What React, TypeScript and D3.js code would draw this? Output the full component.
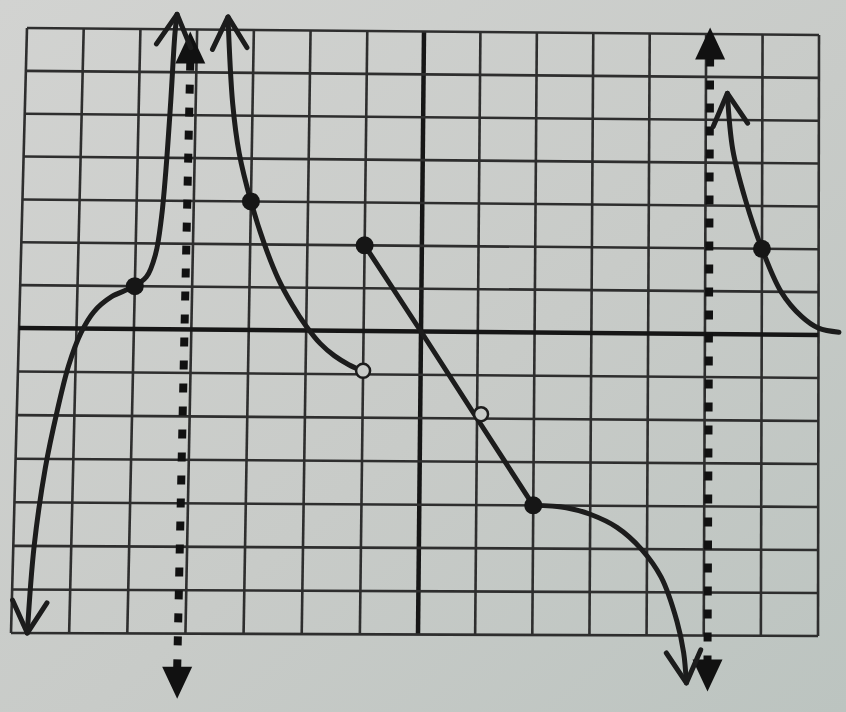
import React from "react";
import * as d3 from "d3";

type Pt = [number, number];

// grid units
const GRID_VALUES = d3.range(-7, 8);

// curve branches (data coordinates)
const branchLeft: Pt[] = [
  [-6.72, -7], [-6.64, -5], [-6.48, -3.2], [-6.3, -1.9], [-6.12, -0.85], [-5.92, -0.1],
  [-5.7, 0.4], [-5.4, 0.75], [-5.05, 0.97], [-4.8, 1.22], [-4.65, 1.75], [-4.56, 2.6],
  [-4.5, 3.7], [-4.44, 5.3], [-4.39, 6.9], [-4.36, 7.35],
];
const branchMiddle: Pt[] = [
  [-3.46, 7.3], [-3.35, 5.28], [-3.22, 4.12], [-3.0, 3.0], [-2.75, 2.0], [-2.5, 1.2],
  [-2.25, 0.6], [-2.0, 0.1], [-1.75, -0.3], [-1.5, -0.58], [-1.25, -0.78], [-1.05, -0.9],
];
const lineSegment: Pt[] = [[-1, 2], [0, 0], [1, -2], [2, -4]];
const lowerTail: Pt[] = [
  [2, -4], [2.58, -4.05], [3, -4.2], [3.47, -4.5], [3.9, -5], [4.25, -5.65],
  [4.53, -6.67], [4.65, -7.4], [4.7, -8.1],
];
const branchRight: Pt[] = [
  [5.38, 5.62], [5.48, 4.3], [5.71, 3.12], [6, 2], [6.34, 1], [6.7, 0.43], [7, 0.16], [7.36, 0.07],
];

const closedPoints: Pt[] = [[-5, 1], [-3, 3], [-1, 2], [2, -4], [6, 2]];
const openPoints: Pt[] = [[-1, -0.92], [1.07, -1.9]];

// vertical asymptotes: x, top tip y, bottom tip y
const asymptoteX = [-4.12, 5.07];
const asymptoteTop = [6.95, 7.15];
const asymptoteBottom = [-8.5, -8.3];

export default function App() {
  const W = 846;
  const H = 712;

  // photo of paper: slight keystone, modelled by blending scales
  const xTop = d3.scaleLinear().domain([-7, 0, 7]).range([27, 424, 819]);
  const xBot = d3.scaleLinear().domain([-7, 0, 7]).range([11, 418, 818]);
  const yLeft = d3.scaleLinear().domain([-7, 0, 7]).range([633, 328, 28]);
  const yRight = d3.scaleLinear().domain([-7, 0, 7]).range([636, 335, 35]);

  const project = (x: number, y: number): Pt => {
    const ty = (y + 7) / 14;
    const tx = (x + 7) / 14;
    const px = xBot(x) + (xTop(x) - xBot(x)) * ty;
    const py = yLeft(y) + (yRight(y) - yLeft(y)) * tx;
    return [px, py];
  };

  const smooth = d3
    .line<Pt>()
    .x((d) => d[0])
    .y((d) => d[1])
    .curve(d3.curveCatmullRom.alpha(0.5));
  const straight = d3
    .line<Pt>()
    .x((d) => d[0])
    .y((d) => d[1]);

  const proj = (pts: Pt[]) => pts.map((p) => project(p[0], p[1]));

  const openArrow = (tip: Pt, prev: Pt, key: string) => {
    const ang = Math.atan2(tip[1] - prev[1], tip[0] - prev[0]);
    const L = 36;
    const a = 0.5;
    const p1: Pt = [tip[0] - L * Math.cos(ang - a), tip[1] - L * Math.sin(ang - a)];
    const p2: Pt = [tip[0] - L * Math.cos(ang + a), tip[1] - L * Math.sin(ang + a)];
    return (
      <path
        key={key}
        d={`M${p1[0]},${p1[1]}L${tip[0]},${tip[1]}L${p2[0]},${p2[1]}`}
        fill="none"
        stroke="#1c1c1c"
        strokeWidth={5}
        strokeLinecap="round"
        strokeLinejoin="round"
      />
    );
  };

  const pl = proj(branchLeft);
  const pm = proj(branchMiddle);
  const ps = proj(lineSegment);
  const pt = proj(lowerTail);
  const pr = proj(branchRight);

  const curveStyle = {
    fill: "none",
    stroke: "#1c1c1c",
    strokeWidth: 5,
    strokeLinecap: "round" as const,
    strokeLinejoin: "round" as const,
  };

  return (
    <svg
      width={W}
      height={H}
      style={{ position: "absolute", left: 0, top: 0, display: "block" }}
    >
      <defs>
        <linearGradient id="paper" x1="0" y1="0" x2="1" y2="1">
          <stop offset="0%" stopColor="#d2d3d1" />
          <stop offset="55%" stopColor="#c8cbc8" />
          <stop offset="100%" stopColor="#bcc4c0" />
        </linearGradient>
      </defs>
      <rect x={0} y={0} width={W} height={H} fill="url(#paper)" />

      {/* grid */}
      <g>
        {GRID_VALUES.map((v) => {
          const a = project(v, -7);
          const b = project(v, 7);
          return (
            <line
              key={`v${v}`}
              x1={a[0]}
              y1={a[1]}
              x2={b[0]}
              y2={b[1]}
              stroke={v === 0 ? "#161616" : "#2e2e2e"}
              strokeWidth={v === 0 ? 4.5 : 2.6}
            />
          );
        })}
        {GRID_VALUES.map((v) => {
          const a = project(-7, v);
          const b = project(7, v);
          return (
            <line
              key={`h${v}`}
              x1={a[0]}
              y1={a[1]}
              x2={b[0]}
              y2={b[1]}
              stroke={v === 0 ? "#161616" : "#2e2e2e"}
              strokeWidth={v === 0 ? 4.5 : 2.6}
            />
          );
        })}
      </g>

      {/* asymptotes */}
      <g>
        {asymptoteX.map((ax, i) => {
          const top = project(ax, asymptoteTop[i]);
          const bot = project(ax, asymptoteBottom[i]);
          const hw = 15;
          const hh = 32;
          return (
            <g key={`as${i}`}>
              <line
                x1={top[0]}
                y1={top[1] + hh - 2}
                x2={bot[0]}
                y2={bot[1] - hh + 2}
                stroke="#111"
                strokeWidth={8}
                strokeDasharray="9 14"
              />
              <path
                d={`M${top[0]},${top[1]}L${top[0] - hw},${top[1] + hh}L${top[0] + hw},${top[1] + hh}Z`}
                fill="#111"
              />
              <path
                d={`M${bot[0]},${bot[1]}L${bot[0] - hw},${bot[1] - hh}L${bot[0] + hw},${bot[1] - hh}Z`}
                fill="#111"
              />
            </g>
          );
        })}
      </g>

      {/* curves */}
      <path d={smooth(pl) || ""} style={curveStyle} />
      <path d={smooth(pm) || ""} style={curveStyle} />
      <path d={straight(ps) || ""} style={curveStyle} />
      <path d={smooth(pt) || ""} style={curveStyle} />
      <path d={smooth(pr) || ""} style={curveStyle} />

      {openArrow(pl[0], pl[1], "a1")}
      {openArrow(pl[pl.length - 1], pl[pl.length - 2], "a2")}
      {openArrow(pm[0], pm[1], "a3")}
      {openArrow(pt[pt.length - 1], pt[pt.length - 2], "a4")}
      {openArrow(pr[0], pr[1], "a5")}

      {/* points */}
      {closedPoints.map((p, i) => {
        const c = project(p[0], p[1]);
        return <circle key={`c${i}`} cx={c[0]} cy={c[1]} r={9} fill="#161616" />;
      })}
      {openPoints.map((p, i) => {
        const c = project(p[0], p[1]);
        return (
          <circle
            key={`o${i}`}
            cx={c[0]}
            cy={c[1]}
            r={7}
            fill="#c9ccc9"
            stroke="#1c1c1c"
            strokeWidth={2.5}
          />
        );
      })}
    </svg>
  );
}
